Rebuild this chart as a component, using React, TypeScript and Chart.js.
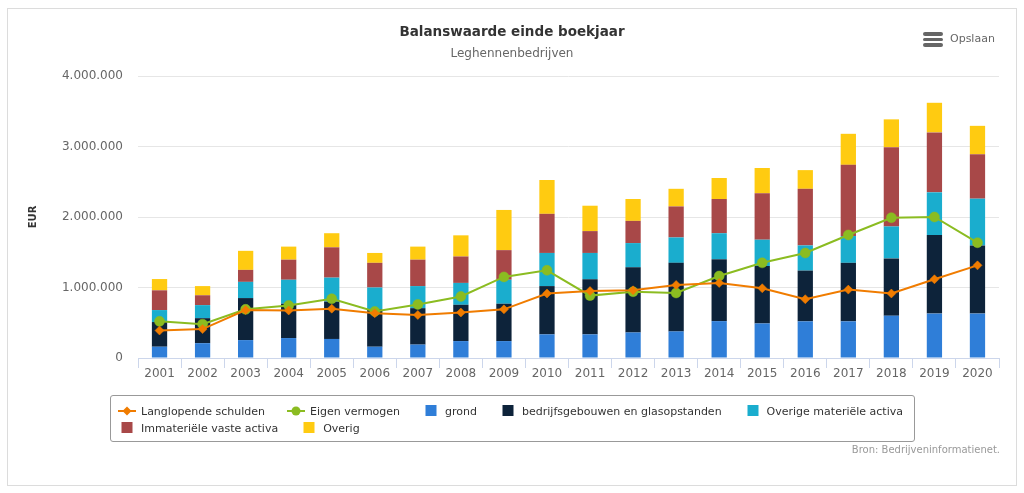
import React, { useEffect, useRef } from "react";
import { Chart, registerables } from "chart.js";

Chart.register(...registerables);

// ---------- data ----------
const years = [
  "2001", "2002", "2003", "2004", "2005", "2006", "2007", "2008", "2009", "2010",
  "2011", "2012", "2013", "2014", "2015", "2016", "2017", "2018", "2019", "2020",
];

const grond = [
  160000, 210000, 254000, 283000, 270000, 160000, 190000, 240000, 240000, 335000,
  335000, 362000, 377000, 523000, 490000, 520000, 520000, 600000, 630000, 630000,
];
const bedrijfsgebouwen = [
  350000, 355000, 596000, 487000, 530000, 530000, 517000, 515000, 530000, 685000,
  782000, 924000, 973000, 877000, 815000, 720000, 830000, 813000, 1115000, 967000,
];
const overigeMaterieel = [
  170000, 185000, 230000, 340000, 340000, 310000, 313000, 310000, 340000, 470000,
  373000, 344000, 360000, 370000, 373000, 357000, 380000, 453000, 605000, 663000,
];
const immaterieel = [
  280000, 140000, 170000, 285000, 430000, 350000, 375000, 375000, 420000, 555000,
  310000, 315000, 440000, 485000, 659000, 803000, 1010000, 1124000, 850000, 630000,
];
const overig = [
  160000, 130000, 270000, 185000, 200000, 140000, 185000, 300000, 570000, 480000,
  360000, 310000, 250000, 298000, 358000, 265000, 440000, 395000, 420000, 403000,
];
const langlopendeSchulden = [
  390000, 410000, 680000, 674000, 700000, 636000, 610000, 645000, 690000, 915000,
  950000, 960000, 1036000, 1064000, 990000, 834000, 970000, 915000, 1117000, 1314000,
];
const eigenVermogen = [
  520000, 480000, 690000, 745000, 840000, 660000, 760000, 873000, 1150000, 1244000,
  885000, 940000, 923000, 1163000, 1350000, 1490000, 1745000, 1990000, 2000000, 1635000,
];
const yTicks = [0, 1000000, 2000000, 3000000, 4000000];

const titleText = "Balanswaarde einde boekjaar";
const subtitleText = "Leghennenbedrijven";
const yAxisTitle = "EUR";
const creditsText = "Bron: Bedrijveninformatienet.";
const menuText = "Opslaan";

// ---------- styles ----------
const FONT = '"DejaVu Sans", Verdana, sans-serif';
const C = {
  schulden: "#f07c00",
  eigen: "#8bbc21",
  grond: "#2f7ed8",
  bedrijf: "#0d233a",
  overigeMat: "#1aadce",
  immat: "#a84848",
  overig: "#ffcb11",
};

const fmt = (v: number) => String(Math.round(v)).replace(/\B(?=(\d{3})+(?!\d))/g, ".");

type LegendKind = "diamond" | "circle" | "square";
const legendRows: { label: string; color: string; kind: LegendKind }[][] = [
  [
    { label: "Langlopende schulden", color: C.schulden, kind: "diamond" },
    { label: "Eigen vermogen", color: C.eigen, kind: "circle" },
    { label: "grond", color: C.grond, kind: "square" },
    { label: "bedrijfsgebouwen en glasopstanden", color: C.bedrijf, kind: "square" },
    { label: "Overige materiële activa", color: C.overigeMat, kind: "square" },
  ],
  [
    { label: "Immateriële vaste activa", color: C.immat, kind: "square" },
    { label: "Overig", color: C.overig, kind: "square" },
  ],
];

function Symbol({ kind, color }: { kind: LegendKind; color: string }) {
  return (
    <svg width={18} height={17} style={{ display: "block", flex: "none" }}>
      {kind !== "square" && <line x1={0} y1={8} x2={18} y2={8} stroke={color} strokeWidth={2} />}
      {kind === "diamond" && <polygon points="9,3.5 13.5,8 9,12.5 4.5,8" fill={color} />}
      {kind === "circle" && <circle cx={9} cy={8} r={4.5} fill={color} />}
      {kind === "square" && <rect x={3.5} y={2} width={11} height={11} fill={color} />}
    </svg>
  );
}

export default function App() {
  const ref = useRef<HTMLCanvasElement>(null);

  useEffect(() => {
    const barCommon = {
      type: "bar" as const,
      order: 2,
      barPercentage: 0.355,
      categoryPercentage: 1,
      borderWidth: 0,
      stack: "activa",
    };
    const chart = new Chart(ref.current as HTMLCanvasElement, {
      type: "bar",
      data: {
        labels: years,
        datasets: [
          {
            type: "line",
            label: "Langlopende schulden",
            data: langlopendeSchulden,
            borderColor: C.schulden,
            backgroundColor: C.schulden,
            borderWidth: 2,
            pointStyle: "rectRot",
            pointRadius: 4.5,
            pointBorderWidth: 0.5,
            pointBorderColor: C.schulden,
            pointBackgroundColor: C.schulden,
            tension: 0,
            order: 0,
            stack: "l1",
          } as any,
          {
            type: "line",
            label: "Eigen vermogen",
            data: eigenVermogen,
            borderColor: C.eigen,
            backgroundColor: C.eigen,
            borderWidth: 2,
            pointStyle: "circle",
            pointRadius: 5,
            pointBorderWidth: 0.5,
            pointBorderColor: C.eigen,
            pointBackgroundColor: C.eigen,
            tension: 0,
            order: 1,
            stack: "l2",
          } as any,
          { ...barCommon, label: "grond", data: grond, backgroundColor: C.grond },
          { ...barCommon, label: "bedrijfsgebouwen en glasopstanden", data: bedrijfsgebouwen, backgroundColor: C.bedrijf },
          { ...barCommon, label: "Overige materiële activa", data: overigeMaterieel, backgroundColor: C.overigeMat },
          { ...barCommon, label: "Immateriële vaste activa", data: immaterieel, backgroundColor: C.immat },
          { ...barCommon, label: "Overig", data: overig, backgroundColor: C.overig },
        ],
      },
      options: {
        responsive: false,
        animation: false,
        events: [],
        layout: { padding: { left: 20, right: 25, top: 76, bottom: 95 } },
        plugins: {
          legend: { display: false },
          title: { display: false },
          tooltip: { enabled: false },
        },
        scales: {
          x: {
            stacked: true,
            grid: {
              display: true,
              drawOnChartArea: false,
              drawTicks: true,
              tickLength: 10,
              offset: true,
              color: "#ccd6eb",
              lineWidth: 1,
            },
            border: { display: true, color: "#ccd6eb", width: 1 },
            ticks: {
              color: "#666666",
              font: { family: FONT, size: 12 },
              padding: -1,
              maxRotation: 0,
              minRotation: 0,
              autoSkip: false,
            },
            afterFit: (s: any) => {
              s.height = 40;
            },
          },
          y: {
            stacked: true,
            min: 0,
            max: 4000000,
            afterBuildTicks: (s: any) => {
              s.ticks = yTicks.map((v) => ({ value: v }));
            },
            grid: { color: "#e6e6e6", lineWidth: 1, drawTicks: false },
            border: { display: false },
            ticks: {
              color: "#666666",
              font: { family: FONT, size: 12 },
              padding: 15,
              callback: (v: any) => fmt(Number(v)),
            },
            title: {
              display: true,
              text: yAxisTitle,
              color: "#333333",
              font: { family: FONT, size: 10, weight: "bold" },
              padding: { top: 7, bottom: 0 },
            },
            afterFit: (s: any) => {
              s.width = 118;
            },
          },
        },
      } as any,
    });
    return () => chart.destroy();
  }, []);

  return (
    <div
      style={{
        position: "absolute",
        left: 0,
        top: 0,
        width: 1024,
        height: 493,
        overflow: "hidden",
        background: "#fff",
        fontFamily: FONT,
      }}
    >
      <div
        style={{
          position: "absolute",
          left: 7,
          top: 8,
          width: 1010,
          height: 478,
          border: "1px solid #dcdcdc",
          boxSizing: "border-box",
        }}
      />
      <canvas
        ref={ref}
        width={1024}
        height={493}
        style={{ position: "absolute", left: 0, top: 0, width: 1024, height: 493 }}
      />
      <div
        style={{
          position: "absolute",
          left: 0,
          top: 21,
          width: 1024,
          textAlign: "center",
          fontSize: 13.5,
          lineHeight: "20px",
          fontWeight: "bold",
          color: "#333333",
        }}
      >
        {titleText}
      </div>
      <div
        style={{
          position: "absolute",
          left: 0,
          top: 43,
          width: 1024,
          textAlign: "center",
          fontSize: 12,
          lineHeight: "20px",
          color: "#666666",
        }}
      >
        {subtitleText}
      </div>
      {/* export menu */}
      <div style={{ position: "absolute", left: 923, top: 32, width: 20, height: 15 }}>
        {[0, 5.5, 11].map((t) => (
          <div
            key={t}
            style={{
              position: "absolute",
              left: 0,
              top: t,
              width: 20,
              height: 3.5,
              borderRadius: 2,
              background: "#666666",
            }}
          />
        ))}
      </div>
      <div
        style={{
          position: "absolute",
          left: 950,
          top: 31,
          fontSize: 11,
          lineHeight: "15px",
          color: "#666666",
        }}
      >
        {menuText}
      </div>
      {/* legend */}
      <div
        style={{
          position: "absolute",
          left: 110,
          top: 395,
          width: 805,
          height: 47,
          border: "1px solid #999999",
          borderRadius: 3,
          boxSizing: "border-box",
          padding: "7px 0 0 7px",
        }}
      >
        {legendRows.map((row, ri) => (
          <div key={ri} style={{ display: "flex", alignItems: "center", height: 17, whiteSpace: "nowrap" }}>
            {row.map((it, i) => (
              <div
                key={it.label}
                style={{
                  display: "flex",
                  alignItems: "center",
                  marginRight: i < row.length - 1 ? 22 : 0,
                }}
              >
                <Symbol kind={it.kind} color={it.color} />
                <span style={{ marginLeft: 5, fontSize: 11, lineHeight: "17px", color: "#333333" }}>{it.label}</span>
              </div>
            ))}
          </div>
        ))}
      </div>
      <div
        style={{
          position: "absolute",
          right: 24,
          top: 443,
          fontSize: 10,
          lineHeight: "14px",
          color: "#999999",
          whiteSpace: "nowrap",
        }}
      >
        {creditsText}
      </div>
    </div>
  );
}
